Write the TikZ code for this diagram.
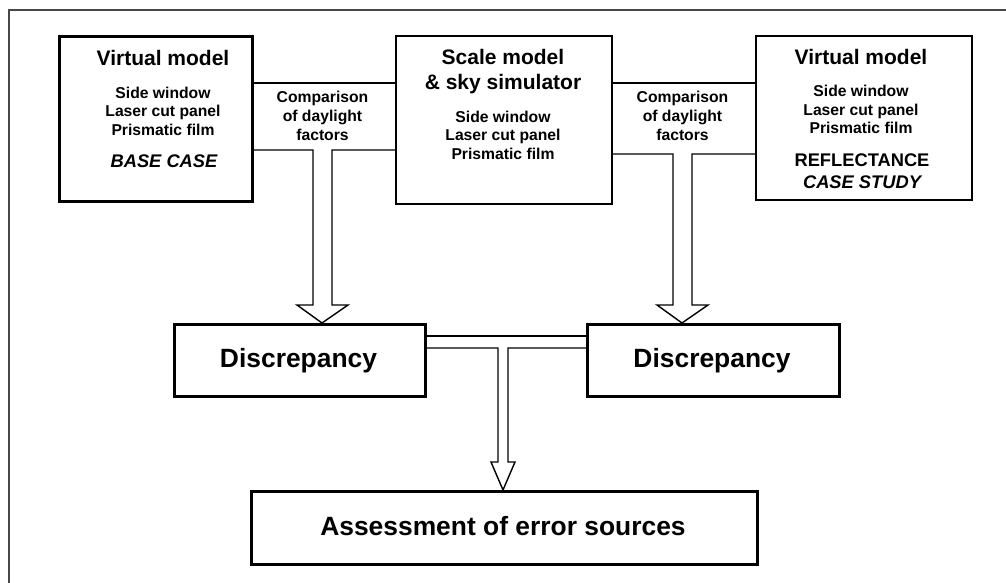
\documentclass[tikz,border=0pt]{standalone}
\usepackage{fontspec}
\setmainfont{Liberation Sans}
\begin{document}
\begin{tikzpicture}[x=1pt,y=-1pt,
  boxthick/.style={draw, line width=2.6pt, inner sep=0pt, anchor=north west},
  boxthin/.style={draw, line width=1.6pt, inner sep=0pt, anchor=north west},
  conn/.style={line width=1.4pt, line join=miter},
  frameline/.style={draw=black!72, line width=1.8pt},
  ttl/.style={anchor=base, inner sep=0pt, font=\fontsize{21}{25}\selectfont\bfseries},
  sml/.style={anchor=base, inner sep=0pt, font=\fontsize{15.7}{19}\selectfont\bfseries},
  mid/.style={anchor=base, inner sep=0pt, font=\fontsize{18.3}{22}\selectfont\bfseries},
  midit/.style={anchor=base, inner sep=0pt, font=\fontsize{18.3}{22}\selectfont\bfseries\itshape},
  big/.style={anchor=base, inner sep=0pt, font=\fontsize{26.4}{30}\selectfont\bfseries}
]
\useasboundingbox (0,0) rectangle (1006,583);
% outer frame (only left and top edges visible)
\draw[frameline] (9,583) -- (9,10) -- (1006,10);

% boxes
\node[boxthick, minimum width=193pt, minimum height=165pt] (b1) at (58,35) {};
\node[boxthin, minimum width=216pt, minimum height=168pt] (b2) at (395,35) {};
\node[boxthin, minimum width=216pt, minimum height=164pt] (b3) at (755,35) {};
\node[boxthick, minimum width=251pt, minimum height=72pt] (d1) at (173,323) {};
\node[boxthick, minimum width=252pt, minimum height=72pt] (d2) at (586,323) {};
\node[boxthick, minimum width=506pt, minimum height=73pt] (as) at (250,490) {};

% texts box 1
\node[ttl] (t1a) at (163,66) {Virtual model};
\node[sml] (t1b) at (163,98.5) {Side window};
\node[sml] (t1c) at (163,117) {Laser cut panel};
\node[sml] (t1d) at (163,135.5) {Prismatic film};
\node[midit] (t1e) at (164,167.7) {BASE CASE};

% texts box 2
\node[ttl] (t2a) at (503,65) {Scale model};
\node[ttl] (t2b) at (503,90) {\& sky simulator};
\node[sml] (t2c) at (503,122.5) {Side window};
\node[sml] (t2d) at (503,141) {Laser cut panel};
\node[sml] (t2e) at (503,159.5) {Prismatic film};

% texts box 3
\node[ttl] (t3a) at (861,65) {Virtual model};
\node[sml] (t3b) at (861,97) {Side window};
\node[sml] (t3c) at (861,115.5) {Laser cut panel};
\node[sml] (t3d) at (861,134) {Prismatic film};
\node[mid] (t3e) at (862,166.5) {REFLECTANCE};
\node[midit] (t3f) at (862,188.5) {CASE STUDY};

% comparison labels
\node[sml] (c1a) at (322.5,103) {Comparison};
\node[sml] (c1b) at (322.5,121.5) {of daylight};
\node[sml] (c1c) at (322.5,140) {factors};
\node[sml] (c2a) at (682.5,103) {Comparison};
\node[sml] (c2b) at (682.5,121.5) {of daylight};
\node[sml] (c2c) at (682.5,140) {factors};

% discrepancy and assessment labels
\node[big] (d1t) at (298.5,367.5) {Discrepancy};
\node[big] (d2t) at (712,367.5) {Discrepancy};
\node[big] (ast) at (503,535) {Assessment of error sources};

% connectors with hollow arrows
\draw[conn] (b1.east |- 0,83) -- (b2.west |- 0,83);
\draw[conn] (b1.east |- 0,150) -- (313,150) -- (313,305) -- (297,305) -- (d1.north -| 322,0)
  -- (348,305) -- (332,305) -- (332,150) -- (b2.west |- 0,150);
\draw[conn] (b2.east |- 0,83) -- (b3.west |- 0,83);
\draw[conn] (b2.east |- 0,154) -- (673,154) -- (673,305) -- (657,305) -- (d2.north -| 682,0)
  -- (708,305) -- (692,305) -- (692,154) -- (b3.west |- 0,154);
\draw[conn] (d1.east |- 0,336) -- (d2.west |- 0,336);
\draw[conn] (d1.east |- 0,348) -- (498,348) -- (498,462) -- (491,462) -- (as.north -| 503,0)
  -- (515,462) -- (508,462) -- (508,348) -- (d2.west |- 0,348);
\end{tikzpicture}
\end{document}
